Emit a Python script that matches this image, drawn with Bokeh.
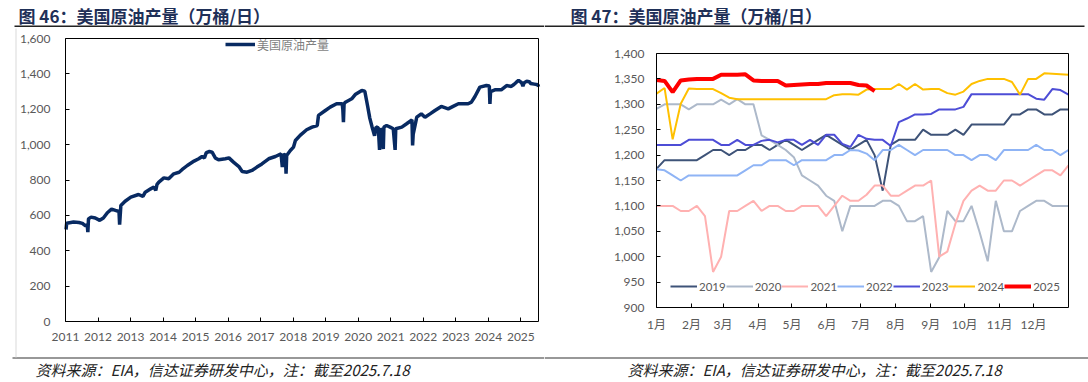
import pandas as pd
from bokeh.plotting import figure
from bokeh.models import (FixedTicker, NumeralTickFormatter, Label, BoxAnnotation,
                          Legend, LegendItem, Range1d, LinearAxis)
from bokeh.layouts import row
from bokeh.embed import file_html
from bokeh.resources import INLINE

# ---------------- data: left chart (weekly US crude output, 万桶/日) ----------------
prod_dates = [
    "2011-01-07", "2011-01-14", "2011-02-15", "2011-04-01", "2011-06-01", "2011-07-10", "2011-08-15", "2011-09-01", "2011-09-09", "2011-09-16", "2011-10-15", "2011-12-01",
    "2012-01-20", "2012-03-01", "2012-04-15", "2012-06-01", "2012-07-15", "2012-08-24", "2012-08-31", "2012-09-14", "2012-11-01",
    "2013-01-04", "2013-04-01", "2013-05-20", "2013-06-15", "2013-08-15", "2013-09-20", "2013-10-11", "2013-10-25", "2013-11-15",
    "2014-01-10", "2014-03-05", "2014-05-01", "2014-06-30", "2014-08-01", "2014-09-30", "2014-12-15",
    "2015-02-05", "2015-03-15", "2015-04-10", "2015-05-01", "2015-06-05", "2015-07-05", "2015-08-10", "2015-09-15", "2015-12-01",
    "2016-01-10", "2016-03-01", "2016-05-01", "2016-06-07", "2016-08-01", "2016-09-25", "2016-11-20",
    "2017-01-15", "2017-04-01", "2017-06-15", "2017-08-18", "2017-09-01", "2017-09-08", "2017-10-06", "2017-10-13", "2017-10-20", "2017-11-30",
    "2018-01-05", "2018-01-26", "2018-03-20", "2018-06-01", "2018-08-01", "2018-09-28", "2018-10-12", "2018-12-28",
    "2019-02-20", "2019-05-03", "2019-07-05", "2019-07-12", "2019-07-19", "2019-07-26", "2019-08-10", "2019-10-20", "2019-11-28",
    "2020-02-10", "2020-03-15", "2020-04-15", "2020-05-10", "2020-06-05", "2020-07-03", "2020-07-20", "2020-08-14", "2020-08-28", "2020-09-04", "2020-09-25", "2020-10-09", "2020-10-16", "2020-11-15", "2020-12-25",
    "2021-01-29", "2021-02-19", "2021-02-26", "2021-05-05", "2021-06-28", "2021-08-27", "2021-09-03", "2021-09-10", "2021-10-20", "2021-12-10",
    "2022-01-20", "2022-03-18", "2022-05-12", "2022-07-22", "2022-10-08", "2022-12-02",
    "2023-01-30", "2023-05-20", "2023-06-25", "2023-08-04", "2023-09-28", "2023-12-10",
    "2024-01-12", "2024-01-19", "2024-01-26", "2024-03-15", "2024-05-25", "2024-07-25", "2024-09-15", "2024-10-15", "2024-11-12", "2024-12-06",
    "2025-01-10", "2025-01-24", "2025-02-07", "2025-03-08", "2025-04-05", "2025-04-20", "2025-06-01", "2025-07-11", "2025-07-18",
]
prod_values = [
    520, 555, 558, 562, 560, 555, 540, 548, 505, 580, 590, 585,
    572, 585, 615, 635, 628, 622, 548, 656, 680,
    703, 718, 707, 731, 750, 760, 741, 775, 788,
    812, 807, 835, 844, 858, 882, 907,
    920, 933, 925, 955, 961, 957, 925, 914, 920,
    925, 901, 876, 848, 844, 854, 873,
    891, 920, 933, 948, 873, 940, 945, 835, 939, 967,
    986, 1023, 1052, 1084, 1099, 1108, 1165, 1193,
    1212, 1231, 1231, 1200, 1127, 1230, 1240, 1259, 1283,
    1306, 1302, 1220, 1150, 1100, 1050, 1100, 1095, 970, 1090, 1080, 975, 1100, 1108, 1099,
    1090, 970, 1090, 1099, 1118, 1140, 995, 1060, 1155, 1174,
    1155, 1174, 1193, 1216, 1202, 1216,
    1231, 1231, 1240, 1272, 1325, 1334,
    1331, 1230, 1300, 1310, 1310, 1334, 1329, 1340, 1353, 1363,
    1350, 1330, 1350, 1358, 1356, 1346, 1342, 1338, 1327,
]
year_ticks = list(range(2011, 2026))

# ---------------- data: right chart (weekly, by year) ----------------
month_labels = ["1月", "2月", "3月", "4月", "5月", "6月", "7月", "8月", "9月", "10月", "11月", "12月"]
month_start_days = [0, 31, 59, 90, 120, 151, 181, 212, 243, 273, 304, 334]

y2019 = [1173, 1190, 1190, 1190, 1190, 1190, 1200, 1210, 1210, 1200, 1210, 1210, 1220, 1220,
         1210, 1220, 1230, 1220, 1210, 1220, 1230, 1240, 1230, 1220, 1211, 1220, 1230,
         1200, 1130, 1220, 1230, 1230, 1230, 1250, 1240, 1240, 1240, 1250, 1240,
         1260, 1260, 1260, 1260, 1260, 1280, 1280, 1290, 1290, 1280, 1280, 1290, 1290]
y2020 = [1291, 1300, 1300, 1300, 1290, 1300, 1300, 1300, 1309, 1300, 1310, 1300, 1300,
         1239, 1230, 1220, 1210, 1196, 1160, 1150, 1140, 1120, 1110, 1050,
         1100, 1100, 1100, 1100, 1110, 1110, 1100,
         1070, 1070, 1080, 970, 999, 1090, 1070, 1070, 1100,
         1048, 991, 1110, 1050, 1050, 1090, 1100, 1110, 1110, 1100, 1100, 1100]
y2021 = [1100, 1100, 1100, 1090, 1090, 1100, 1080, 970, 1000, 1090, 1090, 1100, 1110, 1090,
         1100, 1100, 1090, 1090, 1100, 1100, 1100, 1080, 1100, 1120, 1110, 1110,
         1122, 1140, 1140, 1120, 1120, 1130, 1140, 1140, 1150,
         1000, 1010, 1065, 1110,
         1130, 1140, 1130, 1130, 1150, 1150, 1140, 1150, 1160, 1170, 1170, 1160, 1180]
y2022 = [1172, 1170, 1160, 1150, 1160, 1160, 1160, 1160, 1160, 1160, 1160,
         1170, 1180, 1180, 1190, 1190, 1190, 1180, 1190, 1190, 1190, 1190, 1200, 1200,
         1210, 1209, 1203, 1190, 1210, 1210, 1220, 1210, 1200, 1210, 1210, 1210, 1210,
         1200, 1200, 1190, 1200, 1200, 1190, 1210, 1210, 1210, 1210, 1220, 1210, 1210, 1200, 1210]
y2023 = [1220, 1220, 1220, 1220, 1230, 1230, 1230, 1230,
         1220, 1220, 1230, 1220, 1220, 1228, 1230, 1225, 1230, 1230, 1220, 1230, 1220,
         1240, 1240, 1222, 1216, 1240, 1232, 1230, 1230, 1218, 1265, 1272, 1280, 1280, 1281,
         1290, 1290, 1290, 1295, 1320, 1320, 1320, 1320, 1320, 1320, 1320, 1320,
         1311, 1309, 1330, 1328, 1319]
y2024 = [1321, 1332, 1231, 1301, 1331, 1330, 1330, 1330, 1322, 1313,
         1310, 1310, 1310, 1310, 1310, 1310, 1310, 1310, 1310, 1310, 1310, 1310,
         1318, 1320, 1320, 1319, 1329, 1330, 1330, 1330,
         1340, 1329, 1340, 1329, 1330, 1330, 1322, 1319, 1325, 1340,
         1346, 1350, 1350, 1350, 1344, 1319, 1350, 1350, 1361, 1360, 1359, 1358]
y2025 = [1348, 1346, 1324, 1347, 1349, 1350, 1350, 1350, 1358, 1358, 1358, 1359, 1347,
         1346, 1346, 1346, 1337, 1338, 1339, 1340, 1340, 1342, 1342, 1342, 1342, 1338, 1337, 1326]

series = [
    ("2019", y2019, "#3E5378", 2),
    ("2020", y2020, "#ADB9CA", 2),
    ("2021", y2021, "#FFB1B1", 2),
    ("2022", y2022, "#8FB4F5", 2),
    ("2023", y2023, "#4D4DD6", 2),
    ("2024", y2024, "#FFC000", 2),
    ("2025", y2025, "#FF0000", 4),
]

# ---------------- styling helpers ----------------
NUM_FONT = "Lato, 'Noto Sans CJK SC'"
CJK_FONT = "'Noto Sans CJK SC'"
TICK_COLOR = "#595959"
W, H = 544, 382


def style_axis(ax):
    ax.axis_line_color = "black"
    ax.axis_line_width = 1
    ax.major_tick_in = 4
    ax.major_tick_out = 0
    ax.minor_tick_line_color = None
    ax.major_tick_line_color = "black"
    ax.major_label_text_font = NUM_FONT
    ax.major_label_text_font_size = "12px"
    ax.major_label_text_color = TICK_COLOR


def box_edges(p, x0, x1, y0, y1):
    # top and right edges of the plot box, drawn as plain axes
    top = LinearAxis(fixed_location=y1, bounds=(x0, x1), ticker=FixedTicker(ticks=[]),
                     axis_line_color="black", major_label_text_font_size="0px")
    right = LinearAxis(fixed_location=x1, bounds=(y0, y1), ticker=FixedTicker(ticks=[]),
                       axis_line_color="black", major_label_text_font_size="0px")
    p.add_layout(top, "above")
    p.add_layout(right, "right")


def add_text(p, x, y, text, size, color, style="normal", font=CJK_FONT):
    # x, y are page pixels from top-left of this panel
    p.add_layout(Label(x=x, y=H - y, x_units="screen", y_units="screen", text=text,
                       text_font=font, text_font_size=size, text_color=color,
                       text_font_style=style, text_baseline="middle", text_align="left"))


def add_rule(p, left, right, top, bottom, color):
    p.add_layout(BoxAnnotation(left=left, right=right, bottom=H - bottom, top=H - top,
                               left_units="screen", right_units="screen",
                               bottom_units="screen", top_units="screen",
                               fill_color=color, fill_alpha=1, line_color=None))


def base_figure(xr, yr):
    p = figure(width=W, height=H, output_backend="svg", toolbar_location=None, title=None,
               x_range=xr, y_range=yr, min_border=0,
               min_border_left=0, min_border_right=0, min_border_top=0, min_border_bottom=0)
    p.outline_line_color = None
    p.xgrid.visible = False
    p.ygrid.visible = False
    return p


# ---------------- left figure ----------------
t = pd.to_datetime(pd.Series(prod_dates))
xdec = (t.dt.year + (t.dt.dayofyear - 1) / (365 + t.dt.is_leap_year.astype(int))).tolist()
x_end = xdec[-1]

# plot box in page pixels: x 65..538, y 38..321
sx1 = (x_end - 2011) / (538 - 65)
sy1 = 1600 / (321 - 38)
p1 = base_figure(Range1d(2011 - 65 * sx1, x_end + (W - 538) * sx1),
                 Range1d(-(H - 321) * sy1, 1600 + 38 * sy1))
r1 = p1.line(xdec, prod_values, line_color="#082A62", line_width=3.5)
p1.xaxis.fixed_location = 0
p1.xaxis.bounds = (2011, x_end)
p1.yaxis.fixed_location = 2011
p1.yaxis.bounds = (0, 1600)
style_axis(p1.xaxis[0])
style_axis(p1.yaxis[0])
p1.xaxis.ticker = FixedTicker(ticks=year_ticks)
p1.yaxis.ticker = FixedTicker(ticks=list(range(0, 1601, 200)))
p1.yaxis.formatter = NumeralTickFormatter(format="0,0")
p1.xaxis.major_label_standoff = 11
p1.yaxis.major_label_standoff = 15
box_edges(p1, 2011, x_end, 0, 1600)
leg1 = Legend(items=[LegendItem(label="美国原油产量", renderers=[r1])], location=(225, H - 54),
              background_fill_alpha=0, border_line_color=None, padding=0, margin=0,
              glyph_width=30, label_standoff=2, label_text_font=CJK_FONT,
              label_text_font_size="12px", label_text_color="#7F7F7F")
p1.add_layout(leg1, "center")

add_text(p1, 18, 15, "图 46：美国原油产量（万桶/日）", "17px", "#1F3058", "bold")
add_rule(p1, 14, 544, 25, 26.5, "#222222")
add_rule(p1, 12, 544, 357, 358, "#333333")
add_rule(p1, 15, 16, 28, 357, "#D9D9D9")
add_text(p1, 35, 369, "资料来源：EIA，信达证券研发中心，注：截至2025.7.18", "15px", "#222222", "italic")

# ---------------- right figure ----------------
# plot box in panel pixels: x 112..524, y 53..307
sx2 = 365 / (524 - 112)
sy2 = 500 / (307 - 53)
p2 = base_figure(Range1d(-112 * sx2, 365 + (W - 524) * sx2),
                 Range1d(900 - (H - 307) * sy2, 1400 + 53 * sy2))
items = []
for name, vals, color, lw in series:
    xs = [i * 365 / 51 for i in range(len(vals))]
    r = p2.line(xs, vals, line_color=color, line_width=lw)
    items.append(LegendItem(label=name, renderers=[r]))
p2.xaxis.fixed_location = 900
p2.xaxis.bounds = (0, 365)
p2.yaxis.fixed_location = 0
p2.yaxis.bounds = (900, 1400)
style_axis(p2.xaxis[0])
style_axis(p2.yaxis[0])
p2.xaxis.ticker = FixedTicker(ticks=month_start_days)
p2.xaxis.major_label_overrides = {d: m for d, m in zip(month_start_days, month_labels)}
p2.yaxis.ticker = FixedTicker(ticks=list(range(900, 1401, 50)))
p2.yaxis.formatter = NumeralTickFormatter(format="0,0")
p2.xaxis.major_label_standoff = 9
p2.yaxis.major_label_standoff = 12
box_edges(p2, 0, 365, 900, 1400)
leg2 = Legend(items=items, location=(126, H - 296), orientation="horizontal",
              background_fill_alpha=0, border_line_color=None, padding=0, margin=0,
              glyph_width=27, label_standoff=2, spacing=0, label_text_font=NUM_FONT,
              label_text_font_size="11.5px", label_text_color="#595959")
p2.add_layout(leg2, "center")

add_text(p2, 26, 15, "图 47：美国原油产量（万桶/日）", "17px", "#1F3058", "bold")
add_rule(p2, 0, 540, 25, 26.5, "#222222")
add_rule(p2, 0, 544, 357, 358, "#333333")
add_text(p2, 83, 369, "资料来源：EIA，信达证券研发中心，注：截至2025.7.18", "15px", "#222222", "italic")

layout = row(p1, p2, spacing=0)
open("out.html", "w").write(file_html(layout, INLINE))
